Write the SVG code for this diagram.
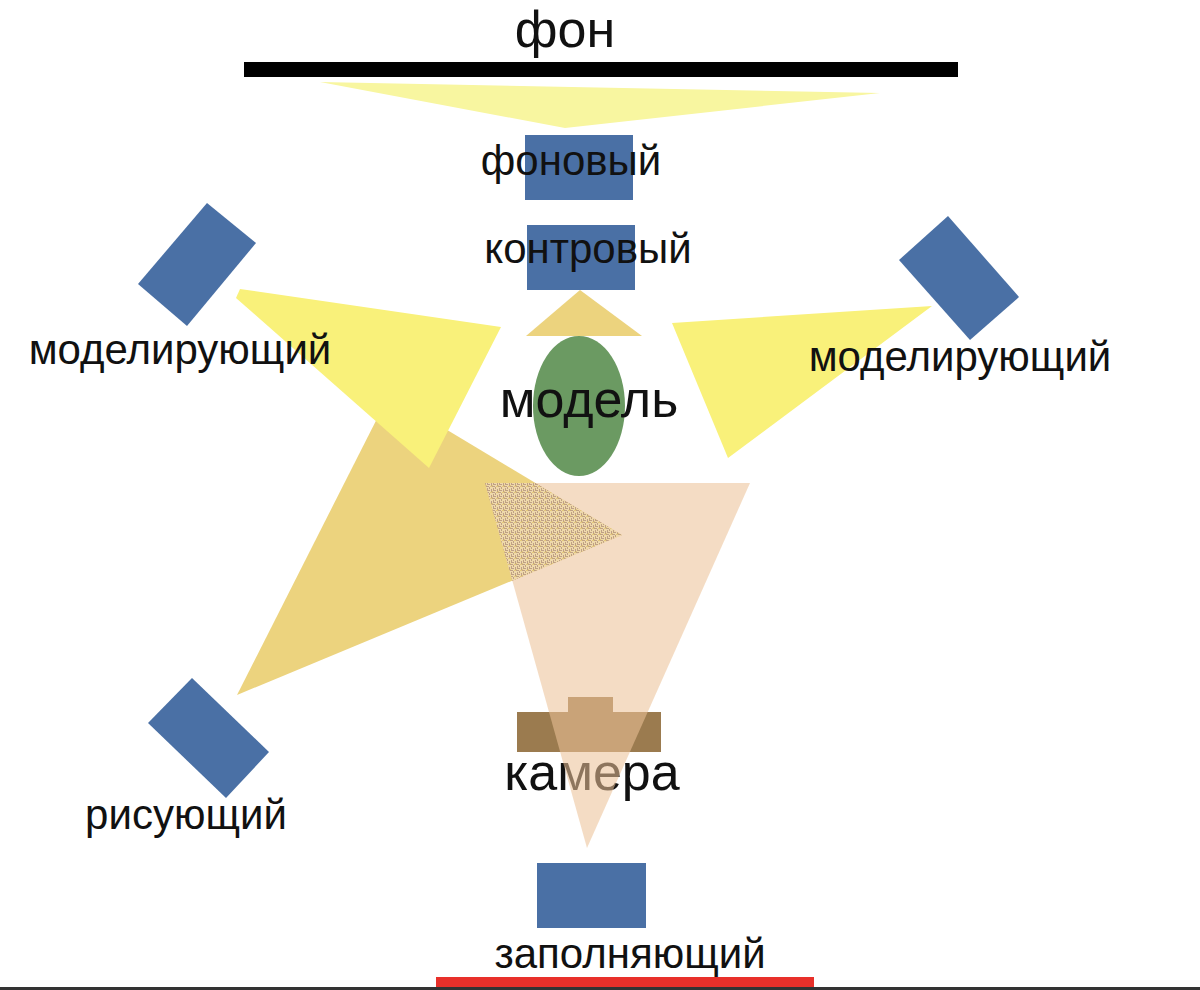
<svg xmlns="http://www.w3.org/2000/svg" width="1200" height="990" viewBox="0 0 1200 990">
<defs>
<style>
.lbl{font-family:"Liberation Sans",Arial,sans-serif;font-size:42px;fill:#111;text-anchor:middle}
.big{font-family:"Liberation Sans",Arial,sans-serif;font-size:52px;fill:#111;text-anchor:middle}
.lamp{fill:#4a70a5}
.gold{fill:#ecd37e}
.yel{fill:#f9f17a}
</style>
<pattern id="dither" width="6" height="6" patternUnits="userSpaceOnUse">
<rect width="6" height="6" fill="#efd9ab"/>
<rect x="0" y="0" width="3" height="1" fill="#bfa084"/>
<rect x="3" y="1" width="1" height="2" fill="#bfa084"/>
<rect x="1" y="2" width="1" height="2" fill="#bfa084"/>
<rect x="1" y="4" width="3" height="1" fill="#bfa084"/>
<rect x="5" y="3" width="1" height="3" fill="#bfa084"/>
<rect x="4" y="0" width="2" height="1" fill="#e4c97a"/>
<rect x="0" y="5" width="1" height="1" fill="#e4c97a"/>
</pattern>
<clipPath id="peachClip"><polygon points="485,483 750,483 587,848"/></clipPath>
</defs>
<rect width="1200" height="990" fill="#ffffff"/>

<g id="floor">
<rect x="0" y="987" width="1200" height="3" fill="#333333"/>
<rect x="436" y="977" width="378" height="10" fill="#e8302a"/>
</g>

<g id="background">
<rect x="244" y="62" width="714" height="15" fill="#000"/>
<text class="big" x="565" y="47">фон</text>
</g>

<g id="beams">
<polygon points="320,82 880,93 565,128" fill="#f8f6a0"/>
<polygon class="gold" points="580,290 526,336 642,336"/>
<polygon class="gold" points="237,695 389,395 622,535"/>
<polygon class="yel" points="240,289 501,327 429,468 236,298"/>
<polygon class="yel" points="672,323 932,306 728,458"/>
</g>

<g id="model">
<ellipse cx="579" cy="406" rx="46" ry="70" fill="#6b9a62"/>
</g>

<g id="camera">
<rect x="517" y="712" width="144" height="40" fill="#9b7b4f"/>
<rect x="568" y="697" width="45" height="15" fill="#9b7b4f"/>
<text class="big" x="592" y="790">камера</text>
</g>

<g id="camera-view">
<polygon points="485,483 750,483 587,848" fill="#ecc197" fill-opacity="0.57"/>
<polygon points="237,695 389,395 622,535" fill="url(#dither)" clip-path="url(#peachClip)"/>
</g>

<g id="backlight-lamp">
<rect class="lamp" x="525" y="135" width="108" height="65"/>
<text class="lbl" x="571" y="175">фоновый</text>
</g>

<g id="rim-lamp">
<rect class="lamp" x="527" y="225" width="108" height="65"/>
<text class="lbl" x="588" y="263">контровый</text>
</g>

<g id="key-left">
<polygon class="lamp" points="207,203 256,243 187,326 138,284"/>
<text class="lbl" x="180" y="364">моделирующий</text>
</g>

<g id="key-right">
<polygon class="lamp" points="948,216 1019,297 970,340 899,260"/>
<text class="lbl" x="960" y="371">моделирующий</text>
</g>

<g id="model-label">
<text class="big" x="589" y="417">модель</text>
</g>

<g id="drawing-lamp">
<polygon class="lamp" points="192,678 269,752 226,798 148,723"/>
<text class="lbl" x="186" y="829">рисующий</text>
</g>

<g id="fill-lamp">
<rect class="lamp" x="537" y="863" width="109" height="65"/>
<text class="lbl" x="630" y="968">заполняющий</text>
</g>
</svg>
